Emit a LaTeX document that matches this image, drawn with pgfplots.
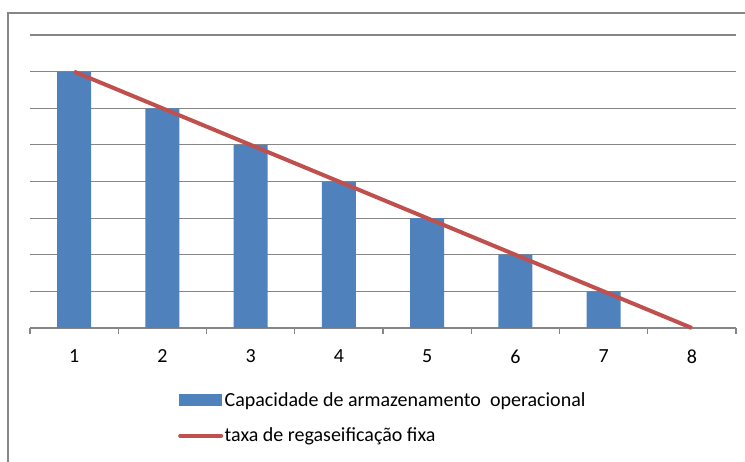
\documentclass[border=0pt]{standalone}
\usepackage{pgfplots}
\pgfplotsset{compat=1.18}
\usepackage{fontspec}
\setmainfont{Carlito}
\definecolor{barblue}{HTML}{4F81BD}
\definecolor{linered}{HTML}{C0504D}
\definecolor{gridgray}{RGB}{134,134,134}
\begin{document}
\begin{tikzpicture}
\useasboundingbox (0bp,0bp) rectangle (745bp,462bp);
\draw[gridgray, line width=1.2bp] (8bp,0bp) -- (8bp,449bp) -- (745bp,449bp);
\begin{axis}[
  at={(30bp,134bp)}, anchor=south west,
  scale only axis, width=706bp, height=293bp,
  xmin=0.5, xmax=8.5, ymin=0, ymax=8,
  axis x line*=bottom, axis y line*=left,
  y axis line style={draw=none},
  x axis line style={gridgray, line width=1.2bp, -},
  ytick={0,1,...,8}, yticklabels={}, major y tick style={draw=none},
  ymajorgrids, grid style={gridgray, line width=1.2bp},
  xtick={1,2,...,8}, major x tick style={draw=none},
  minor xtick={0.5,1.5,...,8.5}, xtick align=outside,
  minor tick length=6bp, minor x tick style={gridgray, line width=1.2bp},
  /pgf/number format/assume math mode=true,
  xticklabel style={font=\fontsize{20bp}{24bp}\selectfont, yshift=-14bp},
  legend style={at={(0.2096,-0.215)}, anchor=north west, draw=none, fill=none,
    inner sep=0pt, font=\fontsize{20bp}{24bp}\selectfont, row sep=17bp,
    nodes={inner sep=1.5bp}},
  legend cell align=left,
  clip=false,
]
\addplot[ybar, bar width=34bp, fill=barblue, draw=none,
  legend image code/.code={\fill[barblue] (0bp,-6bp) rectangle (43bp,6bp);}]
  coordinates {(1,7) (2,6) (3,5) (4,4) (5,3) (6,2) (7,1)};
\addlegendentry{Capacidade de armazenamento\ \ operacional}
\addplot[linered, line width=4bp, mark=none,
  legend image code/.code={\draw[linered, line width=4bp, line cap=round] (1bp,0bp) -- (42bp,0bp);}]
  coordinates {(1,7) (8,0)};
\addlegendentry{taxa de regaseificação fixa}
\end{axis}
\end{tikzpicture}
\end{document}
